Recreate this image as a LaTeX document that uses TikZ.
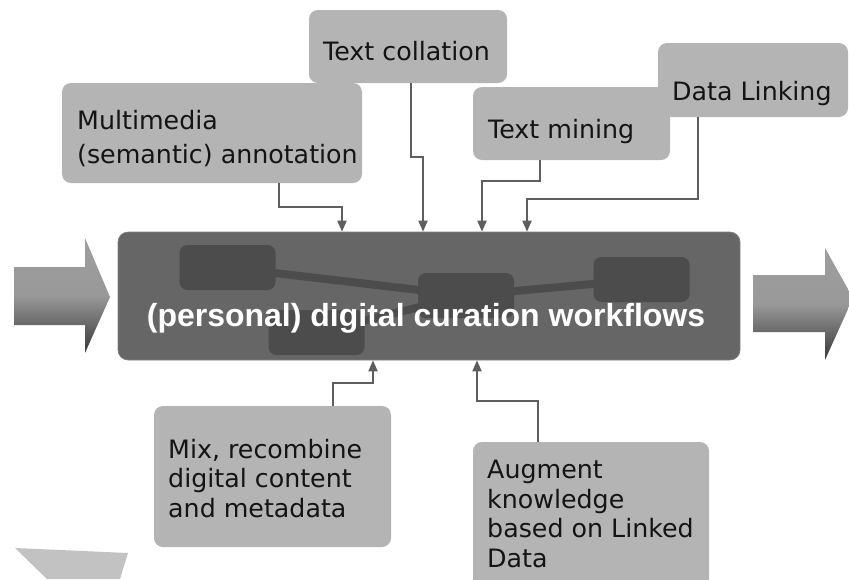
\documentclass[tikz,border=0pt]{standalone}
\usepackage{fontspec}
\setmainfont{DejaVu Sans}
\newfontfamily\hfont{Liberation Sans}
\usetikzlibrary{arrows.meta,calc}
\pgfdeclarelayer{bg}
\pgfdeclarelayer{mid}
\pgfsetlayers{bg,mid,main}
\definecolor{lightbox}{HTML}{B4B4B4}
\definecolor{mainbox}{HTML}{666666}
\definecolor{innerbox}{HTML}{4C4C4C}
\definecolor{connc}{HTML}{5E5E5E}
\definecolor{txtc}{HTML}{141414}
\begin{document}
\begin{tikzpicture}[x=1pt,y=-1pt,
  lbox/.style={rectangle,rounded corners=9pt,fill=lightbox,draw=none,inner sep=0pt},
  ibox/.style={rectangle,rounded corners=8pt,fill=innerbox,draw=none,inner sep=0pt,minimum width=96pt,minimum height=45pt},
  boxtxt/.style={anchor=base west,inner sep=0pt,align=left,text=txtc,font=\fontsize{25.3}{34}\selectfont},
  boxtxtb/.style={boxtxt,font=\fontsize{25.3}{29.4}\selectfont},
  conn/.style={draw=connc,line width=1.8pt,-{Triangle[width=9pt,length=11pt]}},
  bigarrow/.style={top color=black!38,bottom color=black!78,middle color=black!40,draw=none},
  wline/.style={draw=innerbox,line width=8pt}]
\useasboundingbox (0,0) rectangle (849,579);

% big arrows
\path[bigarrow] (14,267) -- (85,267) -- (85,238) -- (110,297) -- (85,353) -- (85,325) -- (14,325) -- cycle;
\path[bigarrow] (753,275) -- (825,275) -- (825,248) -- (853,298) -- (825,360) -- (825,332) -- (753,332) -- cycle;
% partial shape bottom left
\fill[black!24] (15,548) -- (128,553) -- (120,579) -- (47,579) -- cycle;

% main box
\begin{pgfonlayer}{bg}
\node[rectangle,rounded corners=10pt,fill=mainbox,draw=black!50,line width=0.6pt,minimum width=622pt,minimum height=128pt,inner sep=0pt] (main) at (429,296) {};
\end{pgfonlayer}

% inner workflow boxes
\node[ibox] (wa) at (227.5,267.5) {};
\node[ibox] (wb) at (316.5,332.5) {};
\node[ibox] (wc) at (466,295.5) {};
\node[ibox] (wd) at (641.5,279.5) {};
\begin{pgfonlayer}{mid}
\draw[wline] (wa.center) -- (wc.center);
\draw[wline] (wb.center) -- (wc.center);
\draw[wline] (wc.center) -- (wd.center);
\end{pgfonlayer}

\node[anchor=base,inner sep=0pt,text=white,font=\hfont\bfseries\fontsize{32}{36}\selectfont] (mt) at (426,326) {(personal) digital curation workflows};

% top boxes
\node[lbox,minimum width=300pt,minimum height=100pt] (mm) at (212,133) {};
\node[lbox,minimum width=198pt,minimum height=73pt] (tc) at (408,46.5) {};
\node[lbox,minimum width=197pt,minimum height=73pt] (tm) at (571.5,123.5) {};
\node[lbox,minimum width=190pt,minimum height=74pt] (dl) at (753,80) {};
\node[boxtxt] (mmt) at (77,163) {Multimedia\\(semantic) annotation};
\node[boxtxt] (tct) at (323,60) {Text collation};
\node[boxtxt] (tmt) at (488,138) {Text mining};
\node[boxtxt] (dlt) at (672,100) {Data Linking};

% bottom boxes
\node[lbox,minimum width=237pt,minimum height=141pt] (mix) at (272.5,476.5) {};
\node[lbox,minimum width=236pt,minimum height=158pt] (aug) at (591,521) {};
\node[boxtxtb] (mixt) at (168,517) {Mix, recombine\\digital content\\and metadata};
\node[boxtxtb] (augt) at (487,567) {Augment\\knowledge\\based on Linked\\Data};

% connectors
\draw[conn] ([xshift=67pt]mm.south) -- ++(0,24) -| (342,0 |- main.north);
\draw[conn] ([xshift=3pt]tc.south) -- ++(0,74) -| (423,0 |- main.north);
\draw[conn] ([xshift=-31.5pt]tm.south) -- ++(0,21) -| (482,0 |- main.north);
\draw[conn] ([xshift=-55pt]dl.south) -- ++(0,82) -| (527,0 |- main.north);
\draw[conn] ([xshift=60.5pt]mix.north) -- ++(0,-23) -| (373,0 |- main.south);
\draw[conn] ([xshift=-53pt]aug.north) -- ++(0,-41) -| (477,0 |- main.south);
\end{tikzpicture}
\end{document}
